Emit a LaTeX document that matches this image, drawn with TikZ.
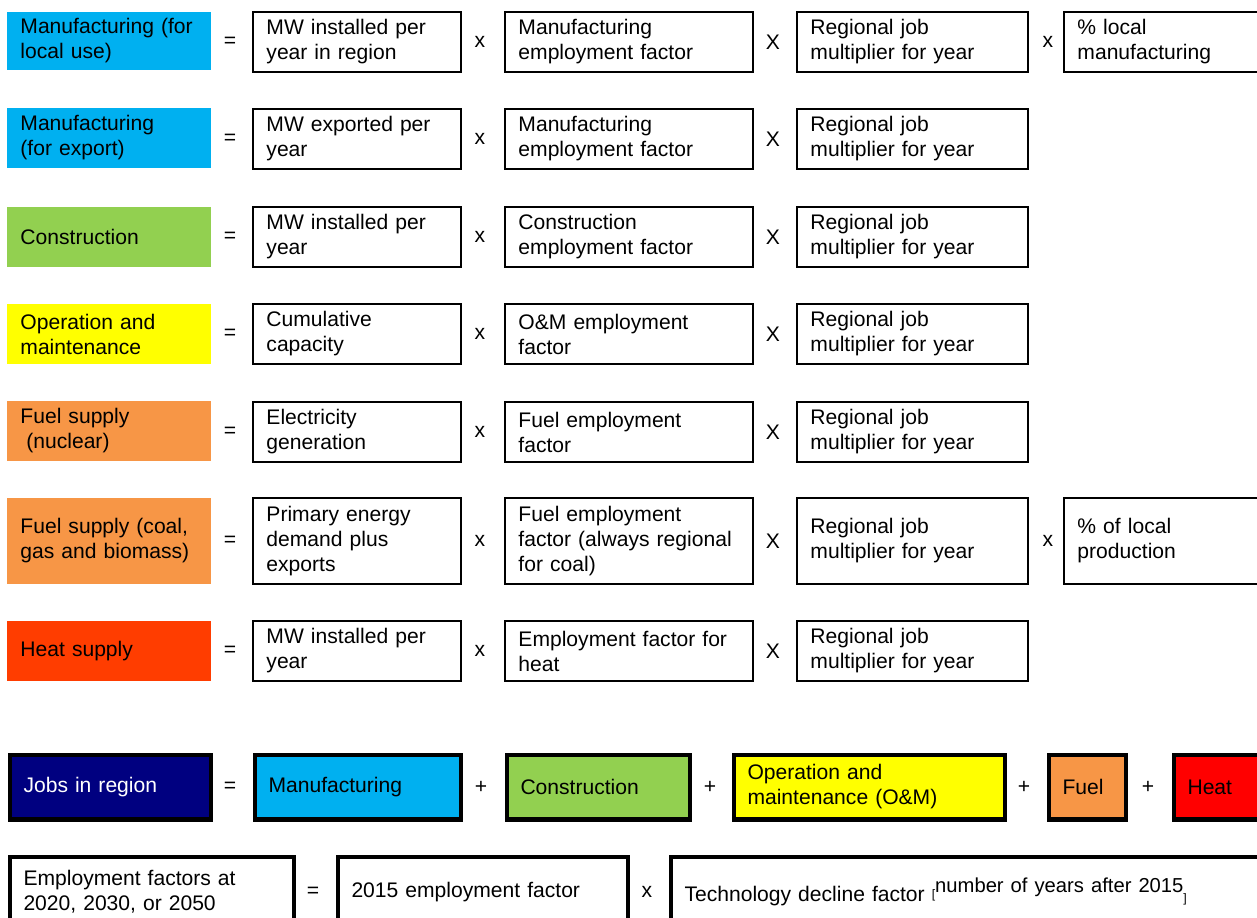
\documentclass[tikz,border=0pt]{standalone}
\usepackage{fontspec}
\setmainfont{Liberation Sans}
\usetikzlibrary{positioning}
\definecolor{mfgblue}{HTML}{00B0F0}
\definecolor{congreen}{HTML}{92D050}
\definecolor{omyellow}{HTML}{FFFF00}
\definecolor{fuelorange}{HTML}{F79646}
\definecolor{heatorange}{HTML}{FF3D00}
\definecolor{heatred}{HTML}{FF0000}
\definecolor{jobsnavy}{HTML}{000080}

\begin{document}
\begin{tikzpicture}[x=0.02cm,y=-0.02cm,
  font=\fontsize{12}{14.2}\selectfont,
  cell/.style={draw,line width=1.1pt,anchor=west,align=left,inner xsep=0.27cm,inner ysep=0pt,minimum height=1.2cm,text width=#1},
  tag/.style={cell=#1,draw=none},
  sumbox/.style={cell=#1,line width=2.3pt,minimum height=1.3cm},
  op/.style={inner sep=0pt}]
\clip (0,0) rectangle (1257,917);

% manufacturing for local use
\node[tag=3.54cm,fill=mfgblue,minimum height=1.16cm] (mfgloc) at (6,41) {Manufacturing (for\\local use)};
\node[op] (mfgloc-eq) at (230,42) {=};
\node[cell=3.62cm] (mfgloc-a) at (252,42) {MW installed per\\year in region};
\node[op] (mfgloc-x1) at (480,42) {x};
\node[cell=4.42cm] (mfgloc-b) at (504,42) {Manufacturing\\employment factor};
\node[op] (mfgloc-x2) at (773,42) {X};
\node[cell=4.08cm] (mfgloc-c) at (796,42) {Regional job\\multiplier for year};
\node[op] (mfgloc-x3) at (1048,42) {x};
\node[cell=4.06cm] (mfgloc-d) at (1063,42) {\% local\\manufacturing};

% manufacturing for export
\node[tag=3.54cm,fill=mfgblue] (mfgexp) at (6,138) {Manufacturing\\(for export)};
\node[op] (mfgexp-eq) at (230,139) {=};
\node[cell=3.62cm] (mfgexp-a) at (252,139) {MW exported per\\year};
\node[op] (mfgexp-x1) at (480,139) {x};
\node[cell=4.42cm] (mfgexp-b) at (504,139) {Manufacturing\\employment factor};
\node[op] (mfgexp-x2) at (773,139) {X};
\node[cell=4.08cm] (mfgexp-c) at (796,139) {Regional job\\multiplier for year};

% construction
\node[tag=3.54cm,fill=congreen] (con) at (6,237) {Construction};
\node[op] (con-eq) at (230,237) {=};
\node[cell=3.62cm] (con-a) at (252,237) {MW installed per\\year};
\node[op] (con-x1) at (480,237) {x};
\node[cell=4.42cm] (con-b) at (504,237) {Construction\\employment factor};
\node[op] (con-x2) at (773,237) {X};
\node[cell=4.08cm] (con-c) at (796,237) {Regional job\\multiplier for year};

% operation and maintenance
\node[tag=3.54cm,fill=omyellow] (om) at (6,334) {Operation and\\maintenance};
\node[op] (om-eq) at (230,334) {=};
\node[cell=3.62cm] (om-a) at (252,334) {Cumulative\\capacity};
\node[op] (om-x1) at (480,334) {x};
\node[cell=4.42cm] (om-b) at (504,334) {O\&M employment\\factor};
\node[op] (om-x2) at (773,334) {X};
\node[cell=4.08cm] (om-c) at (796,334) {Regional job\\multiplier for year};

% fuel supply nuclear
\node[tag=3.54cm,fill=fuelorange] (nuc) at (6,431) {Fuel supply\\\hspace*{0.28em}(nuclear)};
\node[op] (nuc-eq) at (230,432) {=};
\node[cell=3.62cm] (nuc-a) at (252,432) {Electricity\\generation};
\node[op] (nuc-x1) at (480,432) {x};
\node[cell=4.42cm] (nuc-b) at (504,432) {Fuel employment\\factor};
\node[op] (nuc-x2) at (773,432) {X};
\node[cell=4.08cm] (nuc-c) at (796,432) {Regional job\\multiplier for year};

% fuel supply coal, gas, biomass
\node[tag=3.54cm,fill=fuelorange,minimum height=1.72cm] (cgb) at (6,541) {Fuel supply (coal,\\gas and biomass)};
\node[op] (cgb-eq) at (230,541) {=};
\node[cell=3.62cm,minimum height=1.72cm] (cgb-a) at (252,541) {Primary energy\\demand plus\\exports};
\node[op] (cgb-x1) at (480,541) {x};
\node[cell=4.42cm,minimum height=1.72cm] (cgb-b) at (504,541) {Fuel employment\\factor (always regional\\for coal)};
\node[op] (cgb-x2) at (773,541) {X};
\node[cell=4.08cm,minimum height=1.72cm] (cgb-c) at (796,541) {Regional job\\multiplier for year};
\node[op] (cgb-x3) at (1048,541) {x};
\node[cell=4.06cm,minimum height=1.72cm] (cgb-d) at (1063,541) {\% of local\\production};

% heat supply
\node[tag=3.54cm,fill=heatorange] (heat) at (6,651) {Heat supply};
\node[op] (heat-eq) at (230,651) {=};
\node[cell=3.62cm] (heat-a) at (252,651) {MW installed per\\year};
\node[op] (heat-x1) at (480,651) {x};
\node[cell=4.42cm] (heat-b) at (504,651) {Employment factor for\\heat};
\node[op] (heat-x2) at (773,651) {X};
\node[cell=4.08cm] (heat-c) at (796,651) {Regional job\\multiplier for year};

% jobs in region
\node[sumbox=3.48cm,fill=jobsnavy,text=white] (jobs) at (8,787) {Jobs in region};
\node[op] (jobs-eq) at (230,787) {=};
\node[sumbox=3.58cm,fill=mfgblue] (jobs-mfg) at (253,787) {Manufacturing};
\node[op] (jobs-p1) at (481,787) {+};
\node[sumbox=3.12cm,fill=congreen] (jobs-con) at (505,787) {Construction};
\node[op] (jobs-p2) at (710,787) {+};
\node[sumbox=4.88cm,fill=omyellow] (jobs-om) at (732,787) {Operation and\\maintenance (O\&M)};
\node[op] (jobs-p3) at (1024,787) {+};
\node[sumbox=1.0cm,fill=fuelorange] (jobs-fuel) at (1047,787) {Fuel};
\node[op] (jobs-p4) at (1148,787) {+};
\node[sumbox=3cm,fill=heatred] (jobs-heat) at (1172,787) {Heat};

% employment factors
\node[sumbox=5.14cm,minimum height=1.4cm] (ef) at (8,892) {Employment factors at\\2020, 2030, or 2050};
\node[op] (ef-eq) at (313,892) {=};
\node[sumbox=5.26cm,minimum height=1.4cm] (ef-base) at (336,892) {2015 employment factor};
\node[op] (ef-x) at (647,892) {x};
\node[sumbox=11.5cm,minimum height=1.4cm] (ef-decl) at (669,892) {Technology decline factor {\fontsize{7}{8}\selectfont\raisebox{0.4ex}{[}}\raisebox{0.75ex}{\fontsize{11.5}{12}\selectfont number of years after 2015}{\fontsize{7}{8}\selectfont\raisebox{-0.2ex}{]}}};
\end{tikzpicture}
\end{document}
